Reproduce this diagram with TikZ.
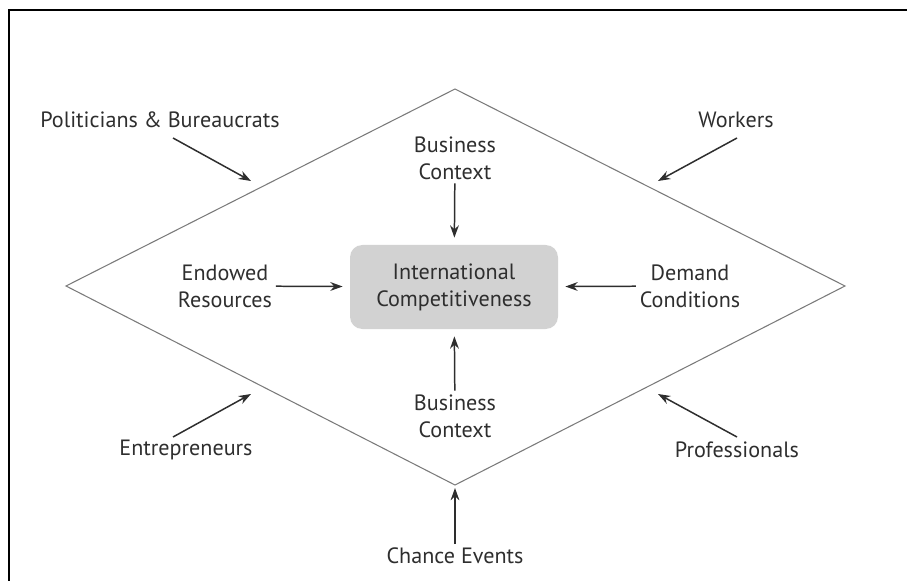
\documentclass[tikz,border=0pt]{standalone}
\usepackage{fontspec}
\setmainfont{PT Sans}
\usetikzlibrary{arrows.meta}

\definecolor{inkgray}{HTML}{2E2E2E}
\definecolor{boxgray}{HTML}{D2D2D2}
\definecolor{edgegray}{HTML}{7A7A7A}

\begin{document}
\begin{tikzpicture}[
    x=0.02cm, y=-0.02cm,
    >={Stealth[length=7pt,width=5pt]},
    lbl/.style = {
      align = center,
      text = inkgray,
      font = \fontsize{12.6pt}{15.3pt}\selectfont,
      inner sep = 2pt
    },
    core/.style = {
      lbl,
      fill = boxgray,
      rounded corners = 7pt,
      minimum width = 208*0.02cm,
      minimum height = 84*0.02cm
    },
    arr/.style = {
      ->,
      draw = inkgray,
      line width = 0.85pt
    }
  ]
  \useasboundingbox (0,0) rectangle (907,581);

  % frame
  \draw[black, line width=1.2pt] (9,581) -- (9,10) -- (907,10);

  % diamond
  \coordinate (N) at (455,89);
  \coordinate (E) at (845,286);
  \coordinate (S) at (455,485);
  \coordinate (W) at (66,286);
  \draw[edgegray, line width=0.6pt] (N) -- (E) -- (S) -- (W) -- cycle;

  % centre and the four inner factors
  \node[core] (comp) at (454,287) {International\\Competitiveness};
  \node[lbl] (ctxtop) at (455,158) {Business\\Context};
  \node[lbl] (ctxbot) at (455,416) {Business\\Context};
  \node[lbl] (endow) at (225,286) {Endowed\\Resources};
  \node[lbl] (demand) at (690,286) {Demand\\Conditions};

  \draw[arr, shorten >=4pt] (ctxtop) -- (comp);
  \draw[arr, shorten >=4pt] (ctxbot) -- (comp);
  \draw[arr, shorten >=4pt] (endow) -- (comp);
  \draw[arr, shorten >=4pt] (demand) -- (comp);

  % outside actors
  \node[lbl] (polit) at (160,120) {Politicians \& Bureaucrats};
  \node[lbl] (workers) at (736,120) {Workers};
  \node[lbl] (entre) at (186,450) {Entrepreneurs};
  \node[lbl] (prof) at (737,450) {Professionals};
  \node[lbl] (chance) at (455,556) {Chance Events};

  \coordinate (polit-a) at (173,138);
  \coordinate (polit-b) at (251,181);
  \coordinate (workers-a) at (737,138);
  \coordinate (workers-b) at (658,181);
  \coordinate (entre-a) at (173,437);
  \coordinate (entre-b) at (251,394);
  \coordinate (prof-a) at (737,437);
  \coordinate (prof-b) at (658,394);
  \coordinate (chance-b) at (455,488);

  \draw[arr] (polit-a) -- (polit-b);
  \draw[arr] (workers-a) -- (workers-b);
  \draw[arr] (entre-a) -- (entre-b);
  \draw[arr] (prof-a) -- (prof-b);
  \draw[arr] (chance) -- (chance-b);
\end{tikzpicture}
\end{document}
